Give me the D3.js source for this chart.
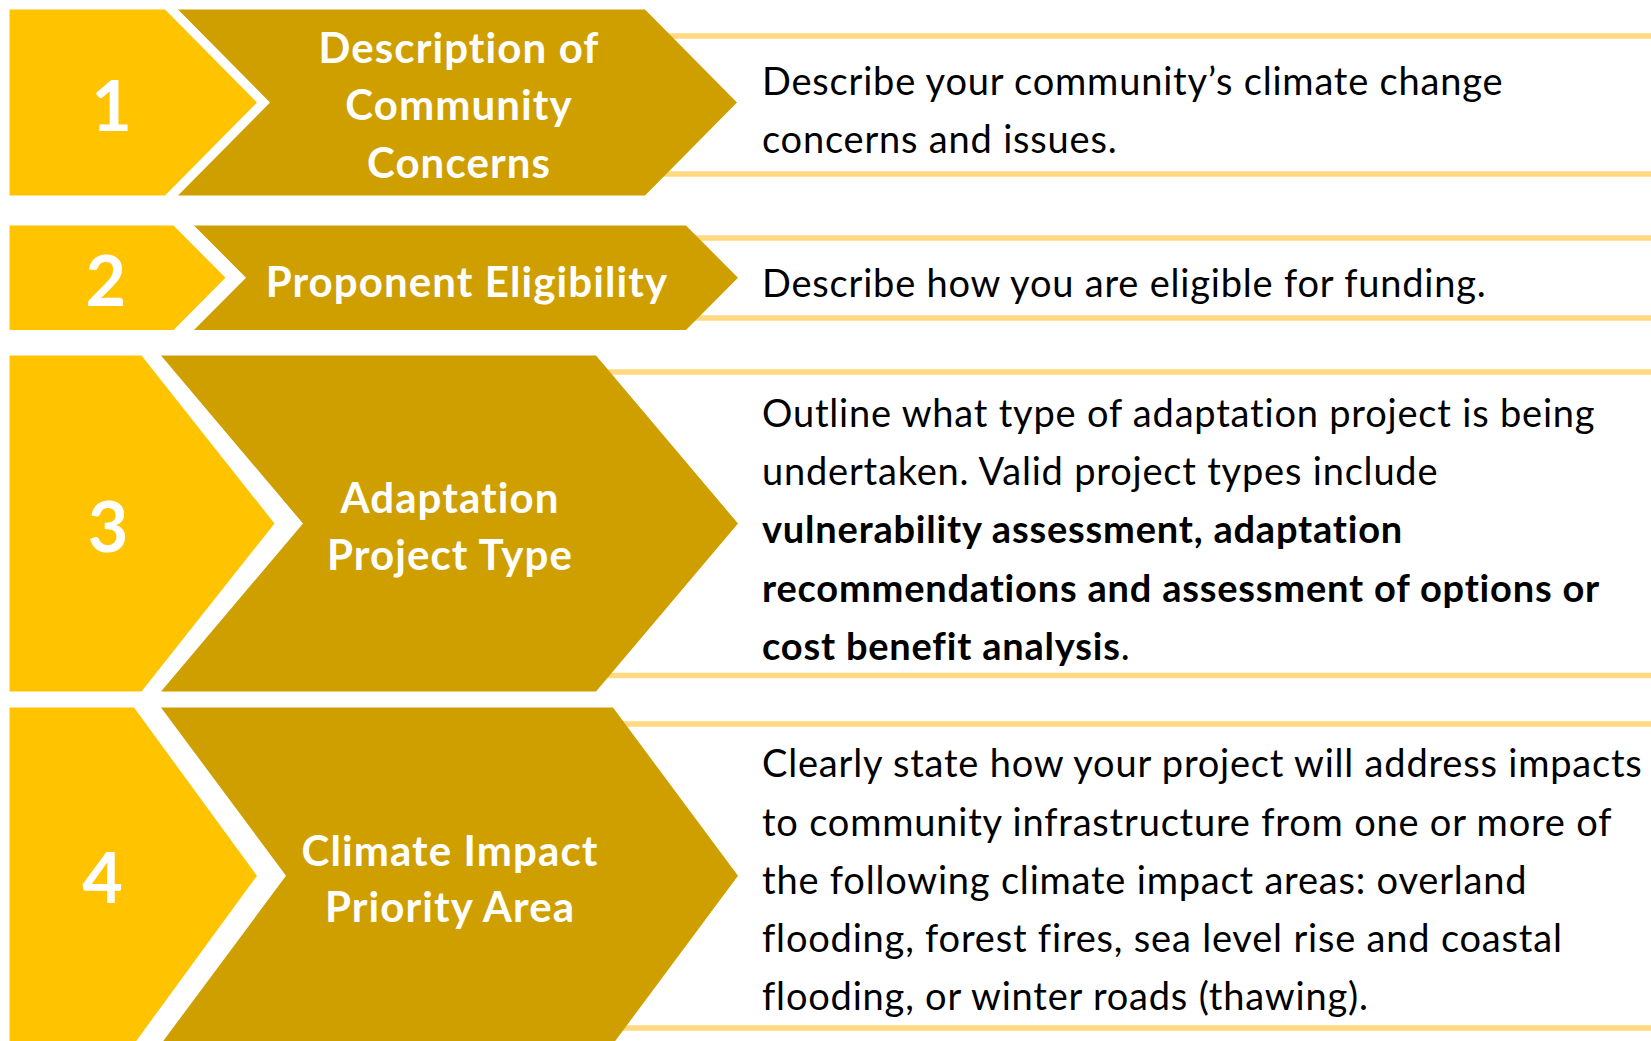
<!DOCTYPE html>
<html lang="en">
  <head>
    <meta charset="UTF-8" />
    <title>Climate adaptation steps</title>
    <script src="https://d3js.org/d3.v7.min.js"></script>
    <style>
      html, body { margin: 0; padding: 0; background: #ffffff; }
      .chart { width: 1651px; height: 1041px; overflow: hidden; }
      text { font-family: Lato, "Open Sans", sans-serif; }
    </style>
  </head>
  <body>
    <div class="chart"></div>
  </body>

  <script>
    // content
    var steps = ["1", "2", "3", "4"];
    var titles = [
      ["Description of", "Community", "Concerns"],
      ["Proponent Eligibility"],
      ["Adaptation", "Project Type"],
      ["Climate Impact", "Priority Area"]
    ];
    // each line is a list of [text, bold] pieces
    var descriptions = [
      [
        [["Describe your community\u2019s climate change", false]],
        [["concerns and issues.", false]]
      ],
      [[["Describe how you are eligible for funding.", false]]],
      [
        [["Outline what type of adaptation project is being", false]],
        [["undertaken. Valid project types include", false]],
        [["vulnerability assessment, adaptation", true]],
        [["recommendations and assessment of options or", true]],
        [["cost benefit analysis", true], [".", false]]
      ],
      [
        [["Clearly state how your project will address impacts", false]],
        [["to community infrastructure from one or more of", false]],
        [["the following climate impact areas: overland", false]],
        [["flooding, forest fires, sea level rise and coastal", false]],
        [["flooding, or winter roads (thawing).", false]]
      ]
    ];

    // geometry of each row (pixels)
    var layout = [
      { top: 9.5, bot: 195.5, yR: 165, yD: 92, dL: 178, dD: 92, dR: 645, numX: 111.5, numY: 130.7,
        lines: [36, 174], titleX: 459, titleY: [63.3, 120, 178.3], descY: [95, 153.3] },
      { top: 225.5, bot: 330, yR: 173.5, yD: 52, dL: 194, dD: 52, dR: 686, numX: 105.7, numY: 305.7,
        lines: [238, 318], titleX: 467, titleY: [296.7], descY: [296.7] },
      { top: 355.5, bot: 691.5, yR: 141.5, yD: 133, dL: 161, dD: 142, dR: 596, numX: 108, numY: 552.3,
        lines: [372, 675.5], titleX: 450, titleY: [513.3, 570], descY: [427.3, 485, 543.3, 601.7, 660] },
      { top: 707.5, bot: 1044, yR: 134, yD: 123, dL: 161, dD: 125, dR: 613, numX: 102.5, numY: 903.3,
        lines: [724, 1028], titleX: 450, titleY: [866, 921.7], descY: [777.3, 835.7, 894, 951.7, 1010] }
    ];

    var width = 1651, height = 1041;
    var left = 9.5, descX = 762, lineX0 = 560;

    var svg = d3
      .select(".chart")
      .append("svg")
      .attr("width", width)
      .attr("height", height);

    var rows = svg
      .selectAll("g.row")
      .data(steps)
      .enter()
      .append("g")
      .attr("class", "row");

    // thin rules behind the arrows
    rows.each(function (d, i) {
      var g = d3.select(this);
      g.selectAll("line")
        .data(layout[i].lines)
        .enter()
        .append("line")
        .attr("x1", lineX0)
        .attr("x2", width)
        .attr("y1", (y) => y)
        .attr("y2", (y) => y)
        .attr("stroke", "#ffda80")
        .attr("stroke-width", 5.5);
    });

    // yellow number block
    rows
      .append("path")
      .attr("fill", "#ffc300")
      .attr("d", function (d, i) {
        var L = layout[i], mid = (L.top + L.bot) / 2;
        var p = d3.path();
        p.moveTo(left, L.top);
        p.lineTo(L.yR, L.top);
        p.lineTo(L.yR + L.yD, mid);
        p.lineTo(L.yR, L.bot);
        p.lineTo(left, L.bot);
        p.closePath();
        return p.toString();
      });

    // dark chevron
    rows
      .append("path")
      .attr("fill", "#cf9f00")
      .attr("d", function (d, i) {
        var L = layout[i], mid = (L.top + L.bot) / 2;
        var p = d3.path();
        p.moveTo(L.dL, L.top);
        p.lineTo(L.dR, L.top);
        p.lineTo(L.dR + L.dD, mid);
        p.lineTo(L.dR, L.bot);
        p.lineTo(L.dL, L.bot);
        p.lineTo(L.dL + L.dD, mid);
        p.closePath();
        return p.toString();
      });

    // step numbers
    rows
      .append("text")
      .attr("x", (d, i) => layout[i].numX)
      .attr("y", (d, i) => layout[i].numY)
      .attr("text-anchor", "middle")
      .attr("fill", "#ffffff")
      .attr("font-weight", 700)
      .attr("font-size", 70)
      .text((d) => d);

    // chevron titles
    rows.each(function (d, i) {
      var g = d3.select(this);
      g.selectAll("text.title")
        .data(titles[i])
        .enter()
        .append("text")
        .attr("class", "title")
        .attr("x", layout[i].titleX)
        .attr("y", (t, j) => layout[i].titleY[j])
        .attr("text-anchor", "middle")
        .attr("fill", "#ffffff")
        .attr("font-weight", 700)
        .attr("font-size", 42)
        .attr("letter-spacing", 1.1)
        .text((t) => t);
    });

    // descriptions
    rows.each(function (d, i) {
      var g = d3.select(this);
      var txt = g
        .selectAll("text.desc")
        .data(descriptions[i])
        .enter()
        .append("text")
        .attr("class", "desc")
        .attr("x", descX)
        .attr("y", (t, j) => layout[i].descY[j])
        .attr("fill", "#000000")
        .attr("font-size", 38)
        .attr("letter-spacing", 0.8);
      txt
        .selectAll("tspan")
        .data((line) => line)
        .enter()
        .append("tspan")
        .attr("font-weight", (s) => (s[1] ? 700 : 400))
        .text((s) => s[0]);
    });
  </script>
</html>
